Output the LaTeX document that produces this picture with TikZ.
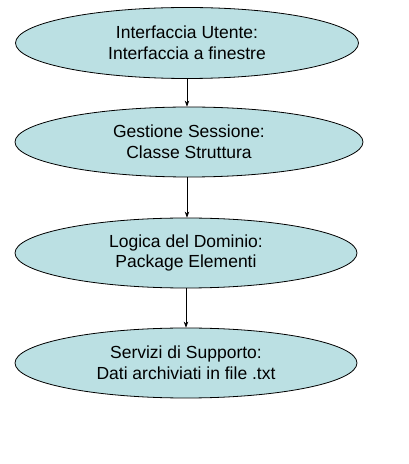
\documentclass[tikz,border=0pt]{standalone}
\usepackage{fontspec}
\setmainfont{Liberation Sans}
\usetikzlibrary{shapes.geometric,arrows.meta}
\definecolor{ellfill}{RGB}{187,224,227}
\begin{document}
\begin{tikzpicture}[x=1pt,y=1pt,
  layer/.style={ellipse,draw=black,line width=0.8pt,fill=ellfill,inner sep=0pt,
    align=center,font=\fontsize{17.5}{20.7}\selectfont},
  conn/.style={line width=0.7pt,-{Stealth[length=6pt,width=4.5pt]}}]
\useasboundingbox (0,0) rectangle (409,464);
\node[layer,minimum width=343pt,minimum height=71pt] (e1) at (187,421) {Interfaccia Utente:\\Interfaccia a finestre};
\node[layer,minimum width=348pt,minimum height=70pt] (e2) at (189,322) {Gestione Sessione:\\Classe Struttura};
\node[layer,minimum width=342pt,minimum height=70pt] (e3) at (186,211) {Logica del Dominio:\\Package Elementi};
\node[layer,minimum width=342pt,minimum height=70pt] (e4) at (186,101) {Servizi di Supporto:\\Dati archiviati in file .txt};
\draw[conn] (e1.south) -- (e1.south |- e2.north);
\draw[conn] (e1.south |- e2.south) -- (e1.south |- e3.north);
\draw[conn] (e3.south) -- (e4.north);
\end{tikzpicture}
\end{document}
